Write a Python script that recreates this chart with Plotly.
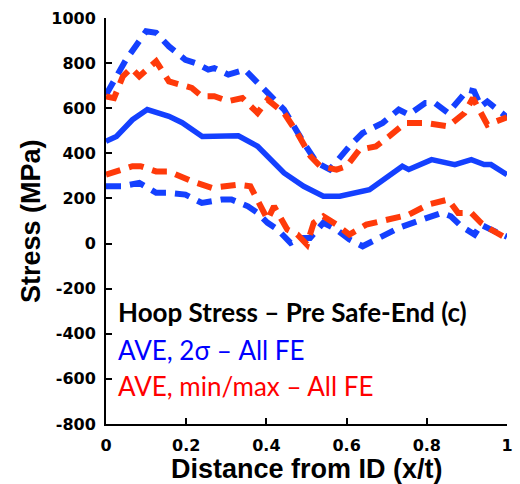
import plotly.graph_objects as go

# Average (solid blue)
ave_x = [0.0, 0.026, 0.066, 0.103, 0.157, 0.19, 0.24, 0.27, 0.33, 0.378, 0.444, 0.493, 0.542, 0.583, 0.657, 0.739, 0.755, 0.812, 0.870, 0.911, 0.943, 0.96, 1.0]
ave_y = [453, 475, 549, 594, 564, 536, 475, 475, 478, 431, 313, 254, 210, 210, 239, 343, 328, 372, 350, 372, 350, 350, 305]

# AVE + 2 sigma (blue dashed)
up2s_x = [0.0, 0.05, 0.1, 0.125, 0.157, 0.198, 0.223, 0.255, 0.27, 0.305, 0.346, 0.395, 0.444, 0.493, 0.526, 0.558, 0.607, 0.64, 0.69, 0.73, 0.755, 0.796, 0.82, 0.853, 0.902, 0.918, 0.935, 0.951, 1.0]
up2s_y = [660, 815, 941, 934, 874, 815, 800, 771, 778, 749, 771, 682, 594, 447, 358, 328, 431, 490, 535, 594, 572, 623, 623, 579, 682, 675, 608, 630, 560]

# AVE - 2 sigma (blue dashed)
lo2s_x = [0.0, 0.04, 0.083, 0.125, 0.157, 0.198, 0.239, 0.288, 0.313, 0.354, 0.378, 0.403, 0.428, 0.46, 0.485, 0.509, 0.542, 0.575, 0.607, 0.64, 0.681, 0.731, 0.788, 0.837, 0.86, 0.886, 0.919, 0.935, 0.96, 1.0]
lo2s_y = [254, 254, 269, 225, 225, 217, 180, 195, 195, 165, 136, 92, 62, 3, 25, 25, 92, 62, 18, -12, 25, 70, 106, 136, 121, 77, 40, 84, 62, 30]

# Max (red dashed)
max_x = [0.0, 0.02, 0.042, 0.063, 0.083, 0.125, 0.157, 0.183, 0.214, 0.239, 0.27, 0.305, 0.34, 0.378, 0.403, 0.444, 0.477, 0.51, 0.534, 0.575, 0.6, 0.632, 0.673, 0.706, 0.747, 0.796, 0.853, 0.894, 0.915, 0.951, 1.0]
max_y = [652, 645, 741, 778, 741, 808, 719, 704, 690, 653, 653, 631, 645, 579, 638, 579, 490, 387, 343, 328, 343, 416, 431, 475, 535, 535, 520, 579, 645, 527, 560]

# Min (red dashed)
min_x = [0.0, 0.066, 0.086, 0.125, 0.157, 0.214, 0.264, 0.33, 0.36, 0.378, 0.403, 0.419, 0.452, 0.477, 0.501, 0.518, 0.542, 0.575, 0.607, 0.649, 0.698, 0.755, 0.804, 0.853, 0.878, 0.911, 0.935, 0.96, 1.0]
min_y = [306, 343, 343, 320, 320, 276, 247, 261, 254, 195, 106, 165, 62, 40, -4, 92, 121, 84, 40, 84, 106, 128, 173, 195, 136, 136, 92, 62, 22]

x_ticks = [0, 0.2, 0.4, 0.6, 0.8, 1]
x_ticktext = ["0", "0.2", "0.4", "0.6", "0.8", "1"]
y_ticks = [-800, -600, -400, -200, 0, 200, 400, 600, 800, 1000]
y_ticktext = ["-800", "-600", "-400", "-200", "0", "200", "400", "600", "800", "1000"]

BLUE = "#1440ff"
RED = "#ff3a0a"
DASH = "15px,9px"

fig = go.Figure()
fig.add_trace(go.Scatter(x=up2s_x, y=up2s_y, mode="lines", line=dict(color=BLUE, width=6, dash=DASH)))
fig.add_trace(go.Scatter(x=lo2s_x, y=lo2s_y, mode="lines", line=dict(color=BLUE, width=6, dash=DASH)))
fig.add_trace(go.Scatter(x=max_x, y=max_y, mode="lines", line=dict(color=RED, width=6, dash=DASH)))
fig.add_trace(go.Scatter(x=min_x, y=min_y, mode="lines", line=dict(color=RED, width=6, dash=DASH)))
fig.add_trace(go.Scatter(x=ave_x, y=ave_y, mode="lines", line=dict(color=BLUE, width=5.5)))

tickfont = dict(family="DejaVu Sans", size=16, color="black", weight="bold")
fig.update_layout(
    width=520, height=484,
    margin=dict(l=106, r=7, t=18, b=60),
    paper_bgcolor="white", plot_bgcolor="white",
    showlegend=False,
    xaxis=dict(range=[0, 1], tickmode="array", tickvals=x_ticks, ticktext=x_ticktext,
               showline=True, linecolor="black", linewidth=2, ticks="inside", ticklen=6,
               tickwidth=2, tickcolor="black", showgrid=False, zeroline=False,
               tickfont=tickfont, ticklabelstandoff=6),
    yaxis=dict(range=[-800, 1000], tickmode="array", tickvals=y_ticks, ticktext=y_ticktext,
               showline=True, linecolor="black", linewidth=2, ticks="inside", ticklen=6,
               tickwidth=2, tickcolor="black", showgrid=False, zeroline=False,
               tickfont=tickfont, ticklabelstandoff=5),
)

titlefont = dict(family="Liberation Sans, Arial", size=27, color="black", weight="bold")
fig.add_annotation(text="Distance from ID (x/t)", xref="paper", yref="paper", x=0.5, y=0,
                   yshift=-45, yanchor="middle", showarrow=False, font=titlefont)
fig.add_annotation(text="Stress (MPa)", xref="paper", yref="paper", x=0, y=0.5,
                   xshift=-75, xanchor="center", textangle=-90, showarrow=False, font=titlefont)

labfont = "Lato, Open Sans, sans-serif"
fig.add_annotation(text="Hoop Stress – Pre Safe-End (c)", xref="paper", yref="paper", x=0, y=0,
                   xshift=10, yshift=112, xanchor="left", yanchor="middle", showarrow=False,
                   font=dict(family=labfont, size=26, color="black", weight="bold"))
fig.add_annotation(text="AVE, 2σ – All FE", xref="paper", yref="paper", x=0, y=0,
                   xshift=10, yshift=74, xanchor="left", yanchor="middle", showarrow=False,
                   font=dict(family=labfont, size=26, color="#0000ff"))
fig.add_annotation(text="AVE, min/max – All FE", xref="paper", yref="paper", x=0, y=0,
                   xshift=10, yshift=38, xanchor="left", yanchor="middle", showarrow=False,
                   font=dict(family=labfont, size=26, color="#ff0000"))

fig.write_html("out.html")
